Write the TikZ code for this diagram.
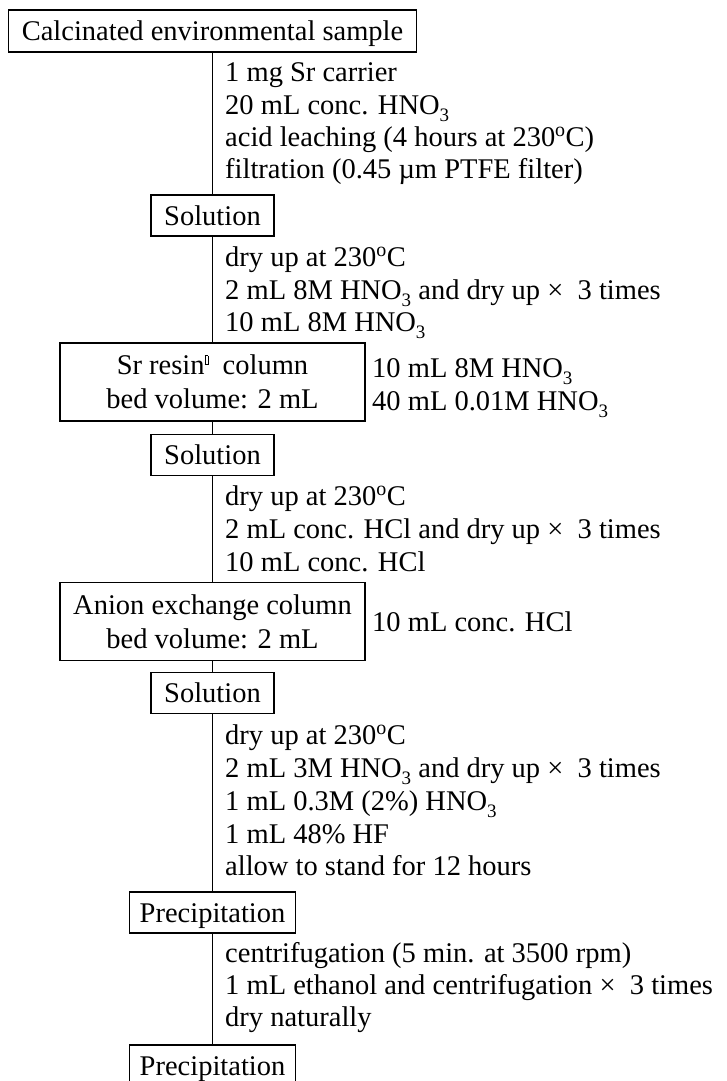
\documentclass[tikz,border=0pt]{standalone}
\usepackage{fontspec}
\setmainfont{Liberation Serif}
\newcommand{\missingglyph}{\raisebox{0.36em}{\setlength{\fboxrule}{0.5pt}\setlength{\fboxsep}{0pt}\fbox{\rule{0pt}{0.3em}\hspace{0.1em}}}}
\newcommand{\chemsub}[1]{\raisebox{-0.27em}{\fontsize{19}{19}\selectfont #1}}
\begin{document}
\begin{tikzpicture}[x=1pt,y=-1pt,
  every node/.style={font=\fontsize{28.5}{34}\selectfont, inner sep=0pt},
  box/.style={draw, line width=1.3pt, text height=19pt, text depth=0pt},
  twobox/.style={draw, line width=1.3pt, align=center},
  stepline/.style={anchor=base west},
  link/.style={line width=1.3pt}]
\useasboundingbox (0,0) rectangle (726,1081);

% boxes
\node[box, minimum width=408pt, minimum height=42pt] (top) at (212.5,31) {Calcinated environmental sample};
\node[box, minimum width=123pt, minimum height=41pt] (sol1) at (212.5,215.5) {Solution};
\node[twobox, minimum width=305pt, minimum height=78pt] (sr) at (212.5,382) {Sr resin\missingglyph\ \ column\\bed volume: 2 mL};
\node[box, minimum width=123pt, minimum height=41pt] (sol2) at (212.5,455) {Solution};
\node[twobox, minimum width=305pt, minimum height=78pt] (anion) at (212.5,621.5) {Anion exchange column\\bed volume: 2 mL};
\node[box, minimum width=123pt, minimum height=41pt] (sol3) at (212.5,693) {Solution};
\node[box, minimum width=166pt, minimum height=41pt] (pre1) at (212.5,912.5) {Precipitation};
\node[box, minimum width=166pt, minimum height=41pt] (pre2) at (212.5,1065.5) {Precipitation};

% connectors
\draw[link] (top.south) -- (sol1.north);
\draw[link] (sol1.south) -- (sr.north);
\draw[link] (sr.south) -- (sol2.north);
\draw[link] (sol2.south) -- (anion.north);
\draw[link] (anion.south) -- (sol3.north);
\draw[link] (sol3.south) -- (pre1.north);
\draw[link] (pre1.south) -- (pre2.north);

% step texts
\node[stepline] (a1) at (225,81.5) {1 mg Sr carrier};
\node[stepline] (a2) at (225,114) {20 mL conc. HNO\chemsub{3}};
\node[stepline] (a3) at (225,146) {acid leaching (4 hours at 230\textsuperscript{o}C)};
\node[stepline] (a4) at (225,178) {filtration (0.45 µm PTFE filter)};

\node[stepline] (b1) at (225,266) {dry up at 230\textsuperscript{o}C};
\node[stepline] (b2) at (225,299) {2 mL 8M HNO\chemsub{3} and dry up ×\ \ 3 times};
\node[stepline] (b3) at (225,331) {10 mL 8M HNO\chemsub{3}};

\node[stepline] (r1) at (372,377) {10 mL 8M HNO\chemsub{3}};
\node[stepline] (r2) at (372,410) {40 mL 0.01M HNO\chemsub{3}};

\node[stepline] (c1) at (225,505) {dry up at 230\textsuperscript{o}C};
\node[stepline] (c2) at (225,538) {2 mL conc. HCl and dry up ×\ \ 3 times};
\node[stepline] (c3) at (225,571) {10 mL conc. HCl};

\node[stepline] (r3) at (372,631) {10 mL conc. HCl};

\node[stepline] (d1) at (225,744) {dry up at 230\textsuperscript{o}C};
\node[stepline] (d2) at (225,777) {2 mL 3M HNO\chemsub{3} and dry up ×\ \ 3 times};
\node[stepline] (d3) at (225,810) {1 mL 0.3M (2\%) HNO\chemsub{3}};
\node[stepline] (d4) at (225,843) {1 mL 48\% HF};
\node[stepline] (d5) at (225,875) {allow to stand for 12 hours};

\node[stepline] (e1) at (225,962) {centrifugation (5 min. at 3500 rpm)};
\node[stepline] (e2) at (225,994) {1 mL ethanol and centrifugation ×\ \ 3 times};
\node[stepline] (e3) at (225,1026) {dry naturally};
\end{tikzpicture}
\end{document}
